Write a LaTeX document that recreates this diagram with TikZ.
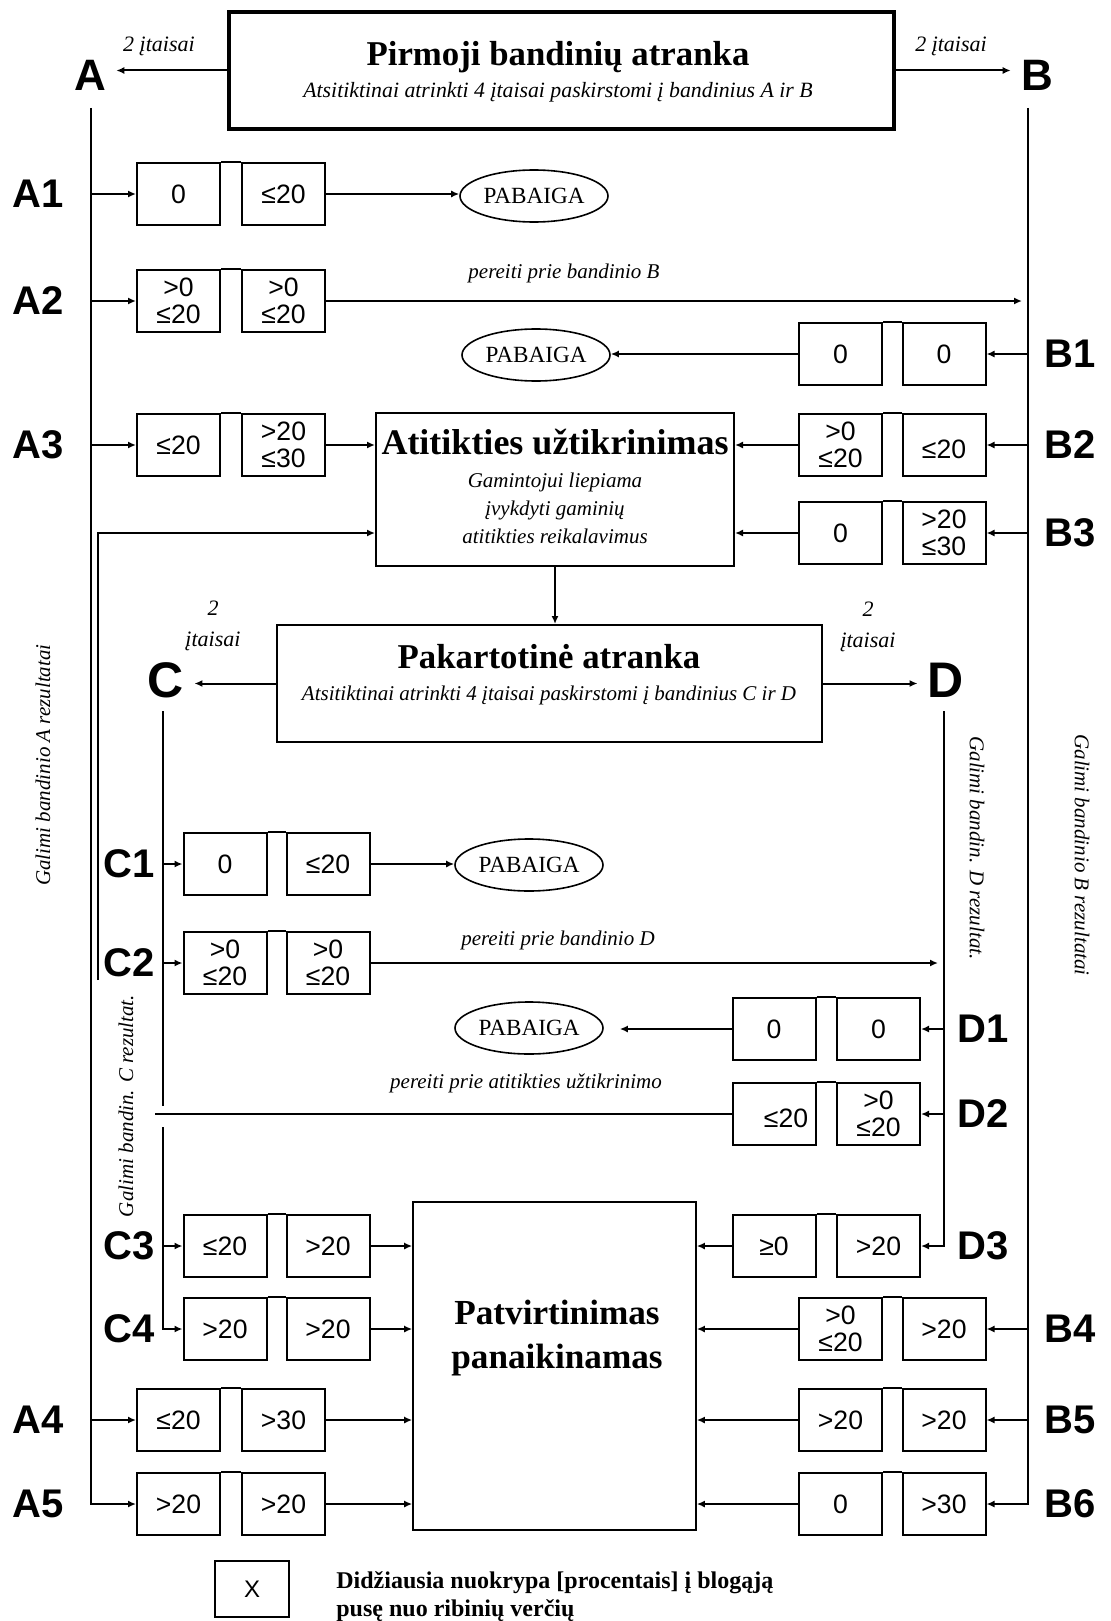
\documentclass[tikz,border=0pt]{standalone}
\usepackage{fontspec}
\setmainfont{Liberation Serif}
\setsansfont{Liberation Sans}
\usetikzlibrary{arrows.meta,positioning,shapes.geometric}

\tikzset{
  valbox/.style={draw, line width=1pt, minimum width=41.5pt, minimum height=31pt,
                 inner sep=1pt, align=center,
                 font=\sffamily\fontsize{13.3}{13.5}\selectfont},
  rowlbl/.style={font=\sffamily\bfseries\fontsize{20}{20}\selectfont, inner sep=1pt},
  grplbl/.style={font=\sffamily\bfseries\fontsize{#1}{#1}\selectfont, inner sep=5pt},
  endnode/.style={draw, ellipse, line width=0.8pt, minimum width=74pt,
                  minimum height=26pt, inner sep=0pt,
                  font=\fontsize{11.6}{12}\selectfont},
  note/.style={font=\itshape\fontsize{10.5}{12}\selectfont, inner sep=1pt},
  mainbox/.style={draw, line width=#1, inner sep=0pt},
  arr/.style={-{Latex[length=4pt,width=3.5pt]}, line width=1pt},
  flow/.style={line width=1pt}
}

\begin{document}
\begin{tikzpicture}[x=0.5pt, y=-0.5pt]
  \useasboundingbox (0,0) rectangle (1110,1621);

  % row levels (pixels from the top)
  \def\yAi{194}   \def\yAii{301}  \def\yBi{354}   \def\yAiii{445}
  \def\yBiii{533} \def\yCi{864}   \def\yCii{963}  \def\yDi{1029}
  \def\yDii{1114} \def\yCiii{1246} \def\yCiv{1329} \def\yAiv{1420}
  \def\yAv{1504}
  % box columns
  \def\xAa{178.5} \def\xAb{283.5}
  \def\xCa{225}   \def\xCb{328}
  \def\xDa{774}   \def\xDb{878.5}
  \def\xBa{840.5} \def\xBb{944}

  % ---- first selection
  \node[mainbox=1.6pt, minimum width=332.5pt, minimum height=58.5pt] (topbox) at (561.5,70.5) {};
  \node[align=center, font=\fontsize{10.9}{16}\selectfont] (toptxt) at (558,72)
    {{\bfseries\fontsize{17.4}{16}\selectfont Pirmoji bandinių atranka}\\
     {\itshape Atsitiktinai atrinkti 4 įtaisai paskirstomi į bandinius A ir B}};

  \node[grplbl=22] (lblA) at (90,75) {A};
  \node[grplbl=22] (lblB) at (1037,75) {B};
  \node[note, font=\itshape\fontsize{11}{12}\selectfont] (devA) at (159,46) {2 įtaisai};
  \node[note, font=\itshape\fontsize{11}{12}\selectfont] (devB) at (951,46) {2 įtaisai};
  \draw[arr] (topbox.west) -- (topbox.west -| lblA.east);
  \draw[arr] (topbox.east) -- (topbox.east -| lblB.west);

  \coordinate (Atop) at (91,108);
  \coordinate (Btop) at (1028,108);

  % ---- row labels
  \node[rowlbl] (la1) at (38,\yAi) {A1};
  \node[rowlbl] (la2) at (38,\yAii) {A2};
  \node[rowlbl] (la3) at (38,\yAiii) {A3};
  \node[rowlbl] (la4) at (38,\yAiv) {A4};
  \node[rowlbl] (la5) at (38,\yAv) {A5};
  \node[rowlbl] (lb1) at (1070,\yBi) {B1};
  \node[rowlbl] (lb2) at (1070,\yAiii) {B2};
  \node[rowlbl] (lb3) at (1070,\yBiii) {B3};
  \node[rowlbl] (lb4) at (1070,\yCiv) {B4};
  \node[rowlbl] (lb5) at (1070,\yAiv) {B5};
  \node[rowlbl] (lb6) at (1070,\yAv) {B6};
  \node[rowlbl] (lc1) at (129,\yCi) {C1};
  \node[rowlbl] (lc2) at (129,\yCii) {C2};
  \node[rowlbl] (lc3) at (129,\yCiii) {C3};
  \node[rowlbl] (lc4) at (129,\yCiv) {C4};
  \node[rowlbl] (ld1) at (983,\yDi) {D1};
  \node[rowlbl] (ld2) at (983,\yDii) {D2};
  \node[rowlbl] (ld3) at (983,\yCiii) {D3};

  % ---- sample A results
  \node[valbox] (a1l) at (\xAa,\yAi) {0};
  \node[valbox] (a1r) at (\xAb,\yAi) {≤20};
  \node[valbox] (a2l) at (\xAa,\yAii) {>0\\≤20};
  \node[valbox] (a2r) at (\xAb,\yAii) {>0\\≤20};
  \node[valbox] (a3l) at (\xAa,\yAiii) {≤20};
  \node[valbox] (a3r) at (\xAb,\yAiii) {>20\\≤30};
  \node[valbox] (a4l) at (\xAa,\yAiv) {≤20};
  \node[valbox] (a4r) at (\xAb,\yAiv) {>30};
  \node[valbox] (a5l) at (\xAa,\yAv) {>20};
  \node[valbox] (a5r) at (\xAb,\yAv) {>20};

  % ---- sample B results
  \node[valbox] (b1l) at (\xBa,\yBi) {0};
  \node[valbox] (b1r) at (\xBb,\yBi) {0};
  \node[valbox] (b2l) at (\xBa,\yAiii) {>0\\≤20};
  \node[valbox] (b2r) at (\xBb,\yAiii) {~\\≤20};
  \node[valbox] (b3l) at (\xBa,\yBiii) {0};
  \node[valbox] (b3r) at (\xBb,\yBiii) {>20\\≤30};
  \node[valbox] (b4l) at (\xBa,\yCiv) {>0\\≤20};
  \node[valbox] (b4r) at (\xBb,\yCiv) {>20};
  \node[valbox] (b5l) at (\xBa,\yAiv) {>20};
  \node[valbox] (b5r) at (\xBb,\yAiv) {>20};
  \node[valbox] (b6l) at (\xBa,\yAv) {0};
  \node[valbox] (b6r) at (\xBb,\yAv) {>30};

  % ---- sample C results
  \node[valbox] (c1l) at (\xCa,\yCi) {0};
  \node[valbox] (c1r) at (\xCb,\yCi) {≤20};
  \node[valbox] (c2l) at (\xCa,\yCii) {>0\\≤20};
  \node[valbox] (c2r) at (\xCb,\yCii) {>0\\≤20};
  \node[valbox] (c3l) at (\xCa,\yCiii) {≤20};
  \node[valbox] (c3r) at (\xCb,\yCiii) {>20};
  \node[valbox] (c4l) at (\xCa,\yCiv) {>20};
  \node[valbox] (c4r) at (\xCb,\yCiv) {>20};

  % ---- sample D results
  \node[valbox] (d1l) at (\xDa,\yDi) {0};
  \node[valbox] (d1r) at (\xDb,\yDi) {0};
  \node[valbox] (d2l) at (\xDa,\yDii) {~\\\hspace*{12pt}≤20};
  \node[valbox] (d2r) at (\xDb,\yDii) {>0\\≤20};
  \node[valbox] (d3l) at (\xDa,\yCiii) {≥0};
  \node[valbox] (d3r) at (\xDb,\yCiii) {>20};

  % top edges joining each pair
  \draw[flow] (a1l.north east) -- (a1r.north west) (a2l.north east) -- (a2r.north west)
              (a3l.north east) -- (a3r.north west) (a4l.north east) -- (a4r.north west)
              (a5l.north east) -- (a5r.north west) (b1l.north east) -- (b1r.north west)
              (b2l.north east) -- (b2r.north west) (b3l.north east) -- (b3r.north west)
              (b4l.north east) -- (b4r.north west) (b5l.north east) -- (b5r.north west)
              (b6l.north east) -- (b6r.north west) (c1l.north east) -- (c1r.north west)
              (c2l.north east) -- (c2r.north west) (c3l.north east) -- (c3r.north west)
              (c4l.north east) -- (c4r.north west) (d1l.north east) -- (d1r.north west)
              (d2l.north east) -- (d2r.north west) (d3l.north east) -- (d3r.north west);

  % ---- end states
  \node[endnode] (end1) at (534,196) {PABAIGA};
  \node[endnode] (end2) at (536,355) {PABAIGA};
  \node[endnode] (end3) at (529,865) {PABAIGA};
  \node[endnode] (end4) at (529,1028) {PABAIGA};

  % ---- conformity
  \node[mainbox=1pt, minimum width=179pt, minimum height=76.5pt] (atit) at (555,489.5) {};
  \node[align=center, font=\itshape\fontsize{10.5}{14}\selectfont] (atittxt) at (555,486)
    {{\upshape\bfseries\fontsize{18}{14}\selectfont Atitikties užtikrinimas}\\[2.5pt]
     Gamintojui liepiama\\ įvykdyti gaminių\\ atitikties reikalavimus};

  % ---- repeated selection
  \node[mainbox=1pt, minimum width=272.5pt, minimum height=58.5pt] (pak) at (549.5,683.5) {};
  \node[align=center, font=\fontsize{10.5}{16}\selectfont] (paktxt) at (549,675)
    {{\bfseries\fontsize{17.4}{16}\selectfont Pakartotinė atranka}\\
     {\itshape Atsitiktinai atrinkti 4 įtaisai paskirstomi į bandinius C ir D}};
  \node[grplbl=25] (lblC) at (166,680) {C};
  \node[grplbl=25] (lblD) at (946,680) {D};
  \node[note, align=center, font=\itshape\fontsize{11}{15.5}\selectfont] (devC) at (213,626) {2\\įtaisai};
  \node[note, align=center, font=\itshape\fontsize{11}{15.5}\selectfont] (devD) at (868,627) {2\\įtaisai};
  \draw[arr] (pak.west) -- (pak.west -| lblC.east);
  \draw[arr] (pak.east) -- (pak.east -| lblD.west);
  \draw[arr] (atit.south) -- (atit.south |- pak.north);

  \coordinate (Ctop) at (163,711);
  \coordinate (Cgapa) at (163,1106);
  \coordinate (Cgapb) at (163,1127);
  \coordinate (Dtop) at (944,711);

  % ---- withdrawal
  \node[mainbox=0.8pt, minimum width=141.5pt, minimum height=164pt] (patv) at (554.5,1366) {};
  \node[align=center, font=\bfseries\fontsize{17.6}{22}\selectfont] (patvtxt) at (557,1338)
    {Patvirtinimas\\panaikinamas};

  % ---- vertical result lines
  \draw[arr] (Atop) |- (a5l.west);
  \draw[arr] (Btop) |- (b6r.east);
  \draw[flow] (Ctop) -- (Cgapa);
  \draw[arr] (Cgapb) |- (c4l.west);
  \draw[arr] (Dtop) |- (d3r.east);

  % into the boxes
  \foreach \n in {a1l,a2l,a3l,a4l} \draw[arr] (\n.west -| Atop) -- (\n.west);
  \foreach \n in {b1r,b2r,b3r,b4r,b5r} \draw[arr] (\n.east -| Btop) -- (\n.east);
  \foreach \n in {c1l,c2l,c3l} \draw[arr] (\n.west -| Ctop) -- (\n.west);
  \foreach \n in {d1r,d2r} \draw[arr] (\n.east -| Dtop) -- (\n.east);

  % out of the boxes
  \draw[arr] (a1r.east) -- (a1r.east -| end1.west);
  \draw[arr] (a2r.east) -- ([xshift=-3pt]a2r.east -| Btop);
  \node[note] (toB) at (564,273) {pereiti prie bandinio B};
  \draw[arr] (a3r.east) -- (a3r.east -| atit.west);
  \draw[arr] (a4r.east) -- (a4r.east -| patv.west);
  \draw[arr] (a5r.east) -- (a5r.east -| patv.west);
  \draw[arr] (b1l.west) -- (b1l.west -| end2.east);
  \draw[arr] (b2l.west) -- (b2l.west -| atit.east);
  \draw[arr] (b3l.west) -- (b3l.west -| atit.east);
  \draw[arr] (b4l.west) -- (b4l.west -| patv.east);
  \draw[arr] (b5l.west) -- (b5l.west -| patv.east);
  \draw[arr] (b6l.west) -- (b6l.west -| patv.east);
  \draw[arr] (c1r.east) -- (c1r.east -| end3.west);
  \draw[arr] (c2r.east) -- ([xshift=-3pt]c2r.east -| Dtop);
  \node[note] (toD) at (558,940) {pereiti prie bandinio D};
  \draw[arr] (c3r.east) -- (c3r.east -| patv.west);
  \draw[arr] (c4r.east) -- (c4r.east -| patv.west);
  \draw[arr] (d1l.west) -- ([xshift=8pt]d1l.west -| end4.east);
  \draw[arr] (d3l.west) -- (d3l.west -| patv.east);

  % D2 back towards conformity
  \coordinate (d2end) at (155,\yDii);
  \draw[flow] (d2l.west) -- (d2end);
  \node[note] (toatit) at (526,1083) {pereiti prie atitikties užtikrinimo};
  \coordinate (retbot) at (98,980);
  \coordinate (retknee) at (98,\yBiii);
  \draw[arr] (retbot) -- (retknee) -- (retknee -| atit.west);

  % ---- side captions
  \node[note, rotate=90] (resA) at (43,765) {Galimi bandinio A rezultatai};
  \node[note, rotate=90] (resC) at (126,1106) {Galimi bandin. C rezultat.};
  \node[note, rotate=-90] (resD) at (977,848) {Galimi bandin. D rezultat.};
  \node[note, rotate=-90] (resB) at (1082,855) {Galimi bandinio B rezultatai};

  % ---- legend
  \node[valbox, minimum width=37pt, minimum height=28pt,
        font=\sffamily\fontsize{12}{12}\selectfont] (legbox) at (252,1589) {X};
  \node[anchor=north west, align=left, inner sep=0pt,
        font=\bfseries\fontsize{12}{14}\selectfont] (legtxt) at (336,1571)
    {Didžiausia nuokrypa [procentais] į blogąją\\pusę nuo ribinių verčių};

\end{tikzpicture}
\end{document}
